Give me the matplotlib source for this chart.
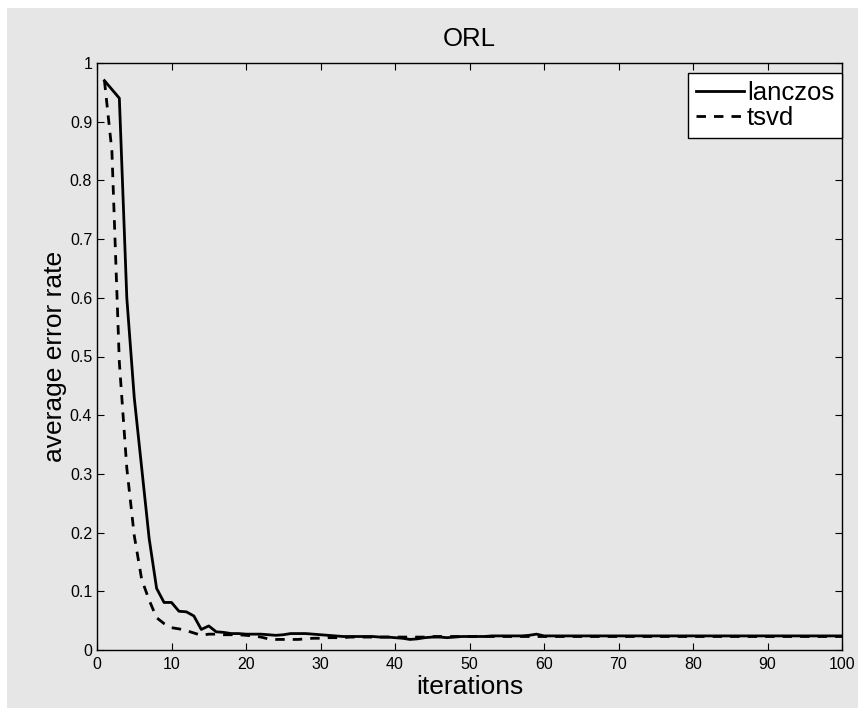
import matplotlib
matplotlib.use("Agg")
import matplotlib.pyplot as plt
from matplotlib.patches import Rectangle
import numpy as np

plt.rcParams['font.family'] = ['Liberation Sans', 'DejaVu Sans']

iterations = list(range(1, 101))

lanczos = [0.970, 0.955, 0.940, 0.600, 0.430, 0.310, 0.190, 0.105, 0.081, 0.081,
           0.066, 0.065, 0.058, 0.035, 0.041, 0.031, 0.030, 0.028, 0.028, 0.027,
           0.027, 0.027, 0.026, 0.025, 0.026, 0.028, 0.028, 0.028, 0.027, 0.026,
           0.025, 0.024, 0.023, 0.023, 0.023, 0.023, 0.023, 0.022, 0.022, 0.021,
           0.020, 0.018, 0.019, 0.021, 0.022, 0.022, 0.021, 0.022, 0.023, 0.023,
           0.023, 0.023, 0.024, 0.024, 0.024, 0.024, 0.024, 0.025, 0.027, 0.024] + [0.024] * 40

tsvd = [0.970, 0.850, 0.490, 0.310, 0.195, 0.120, 0.085, 0.055, 0.045, 0.038,
        0.036, 0.033, 0.029, 0.025, 0.027, 0.027, 0.026, 0.026, 0.026, 0.025,
        0.024, 0.022, 0.019, 0.018, 0.018, 0.018, 0.018, 0.019, 0.020, 0.020,
        0.021, 0.021, 0.021, 0.022, 0.022, 0.022, 0.022, 0.022, 0.022, 0.022,
        0.022, 0.022, 0.022, 0.022, 0.023, 0.023, 0.023, 0.023, 0.023, 0.023] + [0.023] * 50

grey = '#e6e6e6'
fig = plt.figure(figsize=(8.58, 7.08), dpi=100, facecolor='white')
fig.patches.append(Rectangle((7 / 858, 0), 1, (708 - 8) / 708, transform=fig.transFigure,
                             facecolor=grey, edgecolor='none', zorder=-10))

ax = fig.add_axes([97 / 858, 58 / 708, 745 / 858, 587 / 708])
ax.set_facecolor(grey)

ax.plot(iterations, lanczos, color='black', lw=2.0, label='lanczos')
ax.plot(iterations, tsvd, color='black', lw=2.0, linestyle=(0, (3.4, 2.9)), label='tsvd')

ax.set_xlim(0, 100)
ax.set_ylim(0, 1)
ax.set_xticks(np.arange(0, 101, 10))
ax.set_yticks(np.arange(0, 1.01, 0.1))
ax.set_yticklabels(['0', '0.1', '0.2', '0.3', '0.4', '0.5', '0.6', '0.7', '0.8', '0.9', '1'])
ax.tick_params(direction='in', top=True, right=True, length=5.3, width=0.8,
               labelsize=11.5)
ax.tick_params(axis='x', pad=5)
ax.tick_params(axis='y', pad=3.5)
for s in ax.spines.values():
    s.set_linewidth(1.0)

ax.set_title('ORL', fontsize=18.5, pad=12)
ax.set_xlabel('iterations', fontsize=19, labelpad=2)
ax.set_ylabel('average error rate', fontsize=19, labelpad=2)

leg = ax.legend(loc='upper right', bbox_to_anchor=(1.0, (650 - 73) / 587),
                fontsize=18.5, frameon=True, fancybox=False,
                edgecolor='black', facecolor='white', framealpha=1,
                handlelength=1.9, handletextpad=0.1, borderpad=0.3,
                labelspacing=0.05, borderaxespad=0.0)
leg.get_frame().set_linewidth(1.0)

fig.savefig('out.png', dpi=100, facecolor='white')
